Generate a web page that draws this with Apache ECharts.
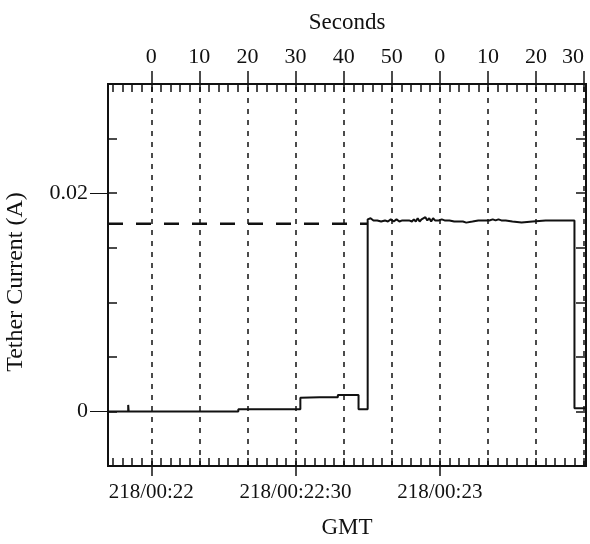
<!DOCTYPE html>
<html>
<head>
<meta charset="utf-8">
<script src="https://cdn.jsdelivr.net/npm/echarts@6/dist/echarts.min.js"></script>
<style>
  html, body { margin: 0; padding: 0; background: #fff; }
  #chart { width: 590px; height: 544px; }
</style>
</head>
<body>
<div id="chart"></div>
<script>
// Tether current trace, time in seconds after 218/00:22:00 GMT
const currentTime = [
  -9, -4.8, -4.8, -4.7, -4.7, 18.1, 18.1, 31.0, 31.0, 35.0, 38.8, 38.8, 43.1, 43.1,
  45.0, 45.0, 45.6, 46.2, 47.0, 47.8, 48.6, 49.2, 49.8, 50.4, 51.0, 51.6, 52.2,
  52.8, 53.6, 54.2, 54.6, 55.0, 55.4, 55.8, 56.2, 56.6, 57.0, 57.4, 57.8, 58.2,
  58.6, 59.0, 59.4, 59.8, 60.4, 61.0, 62.0, 63.0, 64.8, 65.5, 66.8, 68.0, 70.3,
  71.0, 71.6, 72.2, 72.8, 73.7, 75.1, 77.0, 79.3, 82.0, 85.0, 88.0, 88.0, 90.4
];
const currentAmps = [
  0, 0, 0.0006, 0.0006, 0, 0, 0.0002, 0.0002, 0.00125, 0.0013, 0.0013, 0.0015, 0.0015, 0.0002,
  0.0002, 0.0176, 0.0177, 0.0175, 0.0175, 0.0174, 0.0175, 0.0174, 0.0176, 0.0174, 0.0176, 0.0174, 0.0175,
  0.0175, 0.0175, 0.0174, 0.0176, 0.0174, 0.0177, 0.0174, 0.0176, 0.0175, 0.0178, 0.0175, 0.0177, 0.0174,
  0.0177, 0.0175, 0.0176, 0.0175, 0.0176, 0.0175, 0.0175, 0.0174, 0.0174, 0.0173, 0.0174, 0.0175, 0.0175,
  0.0176, 0.0175, 0.0176, 0.0175, 0.0175, 0.0174, 0.0173, 0.0174, 0.0175, 0.0175, 0.0175, 0.0003, 0.0003
];

// Dashed reference level
const refTime = [-9, 45.0];
const refAmps = [0.0172, 0.0172];

// Axis ticks and labels
const secondsTicks = [0, 10, 20, 30, 40, 50, 60, 70, 80, 90];
const gmtTicks = [0, 30, 60];
const gmtLabels = ['218/00:22', '218/00:22:30', '218/00:23'];
const currentTicks = [0, 0.02];
const currentLabels = ['0', '0.02'];

const X_MIN = -9, X_MAX = 90.4;
const minorSeconds = [];
for (let s = -8; s <= X_MAX; s += 2) minorSeconds.push(s);

const FONT = '"Liberation Serif", "Times New Roman", serif';
const INK = '#111';

const chart = echarts.init(document.getElementById('chart'), null, { renderer: 'canvas' });

const baseX = (pos) => ({
  type: 'value', position: pos, min: X_MIN, max: X_MAX,
  axisLine: { show: false, onZero: false }, splitLine: { show: false }
});
const baseY = (pos) => ({
  type: 'value', position: pos, min: -0.005, max: 0.03, interval: 0.005,
  axisLine: { show: false, onZero: false }, splitLine: { show: false }
});

chart.setOption({
  animation: false,
  backgroundColor: '#fff',
  grid: {
    left: 108, right: 4, top: 84, bottom: 78, outerBoundsMode: 'none',
    show: true, borderColor: INK, borderWidth: 2, backgroundColor: 'transparent'
  },
  xAxis: [
    Object.assign(baseX('bottom'), {
      axisTick: { show: true, inside: false, length: 10, customValues: gmtTicks, lineStyle: { color: INK, width: 1.5 } },
      axisLabel: { customValues: gmtTicks, formatter: v => gmtLabels[gmtTicks.indexOf(v)], margin: 16, fontFamily: FONT, fontSize: 21, color: INK },
      name: 'GMT', nameLocation: 'middle', nameGap: 50,
      nameTextStyle: { fontFamily: FONT, fontSize: 23, color: INK }
    }),
    Object.assign(baseX('bottom'), {
      axisTick: { show: true, inside: true, length: 8, customValues: minorSeconds, lineStyle: { color: INK, width: 1.5 } },
      axisLabel: { show: false }
    }),
    Object.assign(baseX('top'), {
      axisTick: { show: true, inside: false, length: 13, customValues: secondsTicks, lineStyle: { color: INK, width: 1.5 } },
      axisLabel: { customValues: secondsTicks, formatter: v => String(v % 60), margin: 16, alignMaxLabel: 'right', fontFamily: FONT, fontSize: 22, color: INK },
      name: 'Seconds', nameLocation: 'middle', nameGap: 50,
      nameTextStyle: { fontFamily: FONT, fontSize: 23, color: INK }
    }),
    Object.assign(baseX('top'), {
      axisTick: { show: true, inside: true, length: 8, customValues: minorSeconds, lineStyle: { color: INK, width: 1.5 } },
      axisLabel: { show: false }
    })
  ],
  yAxis: [
    Object.assign(baseY('left'), {
      axisTick: { show: true, inside: false, length: 18, customValues: currentTicks, lineStyle: { color: INK, width: 1 } },
      axisLabel: { customValues: currentTicks, formatter: v => currentLabels[currentTicks.indexOf(v)], margin: 20, fontFamily: FONT, fontSize: 22, color: INK },
      name: 'Tether Current (A)', nameLocation: 'middle', nameGap: 80,
      nameTextStyle: { fontFamily: FONT, fontSize: 24, color: INK, padding: [0, 14, 0, 0] }
    }),
    Object.assign(baseY('left'), {
      axisTick: { show: true, inside: true, length: 9, lineStyle: { color: INK, width: 1.5 } },
      axisLabel: { show: false }
    }),
    Object.assign(baseY('right'), {
      axisTick: { show: true, inside: true, length: 10, lineStyle: { color: INK, width: 1.5 } },
      axisLabel: { show: false }
    })
  ],
  series: [
    {
      name: 'Tether current', type: 'line', xAxisIndex: 0, yAxisIndex: 0,
      data: currentTime.map((t, i) => [t, currentAmps[i]]),
      showSymbol: false, symbol: 'none',
      lineStyle: { color: INK, width: 2 },
      markLine: {
        silent: true, symbol: 'none', label: { show: false },
        lineStyle: { color: INK, width: 1.5, type: [5, 6] },
        data: secondsTicks.map(v => ({ xAxis: v }))
      },
      z: 3
    },
    {
      name: 'Reference level', type: 'line', xAxisIndex: 0, yAxisIndex: 0,
      data: refTime.map((t, i) => [t, refAmps[i]]),
      showSymbol: false, symbol: 'none',
      lineStyle: { color: INK, width: 2.5, type: [15, 13] },
      z: 2
    }
  ]
});
</script>
</body>
</html>
